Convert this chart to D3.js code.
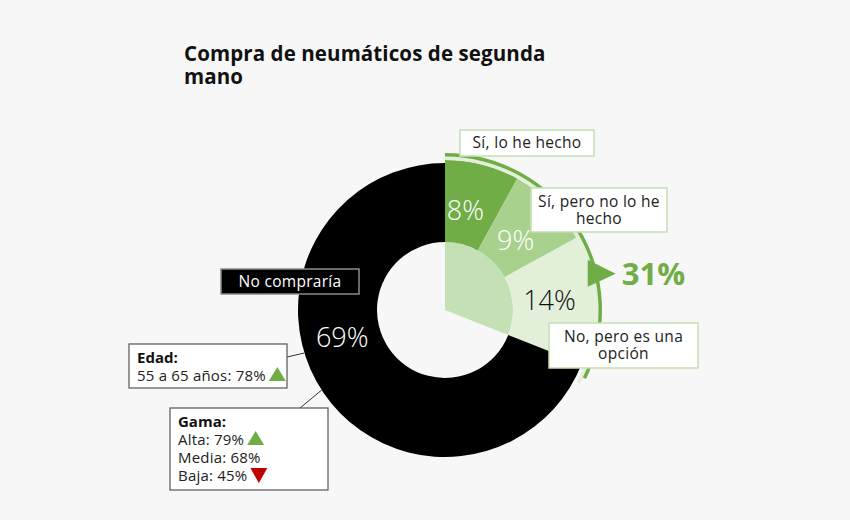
<!DOCTYPE html>
<html>
<head>
<meta charset="utf-8">
<script src="https://cdn.jsdelivr.net/npm/d3@7"></script>
<style>
  body { margin: 0; background: #f7f7f7; }
  svg { display: block; font-family: "Open Sans", "DejaVu Sans", sans-serif; }
</style>
</head>
<body>
<div id="chart"></div>
<script>
// data
const categories = ['Sí, lo he hecho', 'Sí, pero no lo he hecho', 'No, pero es una opción', 'No compraría'];
const values = [8, 9, 14, 69];
const categoryLines = [['Sí, lo he hecho'], ['Sí, pero no lo he', 'hecho'], ['No, pero es una', 'opción'], ['No compraría']];
const edadLabels = ['55 a 65 años'];
const edadValues = [78];
const edadTrend = ['up'];
const gamaLabels = ['Alta', 'Media', 'Baja'];
const gamaValues = [79, 68, 45];
const gamaTrend = ['up', null, 'down'];

const width = 850, height = 520;
const cx = 445, cy = 310;
const r0 = 68, rBlack = 147, rGreen = 150;
const colors = ['#70ad47', '#a9d18e', '#e2f0d9', '#000000'];
const deg = Math.PI / 180;

const svg = d3.select('#chart').append('svg')
  .attr('width', width)
  .attr('height', height);

svg.append('rect').attr('width', width).attr('height', height).attr('fill', '#f7f7f7');

// title, two lines
['Compra de neumáticos de segunda', 'mano'].forEach((l, k) => {
  svg.append('text')
    .attr('x', 184).attr('y', 61 + k * 23)
    .attr('font-size', 20.5).attr('font-weight', 700).attr('fill', '#111')
    .attr('letter-spacing', 0.1)
    .text(l);
});

const rows = categories.map((c, i) => ({ cat: c, val: values[i], i }));
const pie = d3.pie().sort(null).value(d => d.val);
const arcs = pie(rows);
const yesEnd = arcs[2].endAngle;
const yesTotal = d3.sum(values.slice(0, 3));

const g = svg.append('g').attr('transform', `translate(${cx},${cy})`);

// inner pale wedge for the "yes" share
g.append('path')
  .attr('fill', '#c5e0b4')
  .attr('d', d3.arc()({ innerRadius: 0, outerRadius: r0, startAngle: 0, endAngle: yesEnd }));

// ring segments
g.selectAll('path.seg')
  .data(arcs)
  .join('path')
    .attr('class', 'seg')
    .attr('fill', (d, i) => colors[i])
    .attr('d', d => d3.arc()({
      innerRadius: r0,
      outerRadius: d.data.i < 3 ? rGreen : rBlack,
      startAngle: d.startAngle,
      endAngle: d.endAngle
    }));

// outer rim bands
g.append('path')
  .attr('fill', '#e2f0d9')
  .attr('d', d3.arc()({ innerRadius: rGreen, outerRadius: 154, startAngle: 0, endAngle: yesEnd + 7 * deg }));
g.append('path')
  .attr('fill', '#70ad47')
  .attr('d', d3.arc()({ innerRadius: 153.5, outerRadius: 157, startAngle: 0, endAngle: yesEnd + 4.5 * deg }));

// pointer triangle + total
const pa = 76.5 * deg;
const px = 155 * Math.sin(pa), py = -155 * Math.cos(pa);
g.append('path')
  .attr('fill', '#70ad47')
  .attr('d', `M${px - 8},${py - 14}L${px + 20},${py}L${px - 8},${py + 13}Z`);
g.append('text')
  .attr('x', px + 26).attr('y', py + 11)
  .attr('font-size', 31).attr('font-weight', 700)
  .attr('fill', '#70ad47')
  .text(yesTotal + '%');

// percent labels
const labelShift = [-3, 0, -2, 20];
const labelR = [103, 100, 105, 106];
g.selectAll('text.pct')
  .data(arcs)
  .join('text')
    .attr('class', 'pct')
    .attr('transform', (d, i) => {
      const a = (d.startAngle + d.endAngle) / 2 + labelShift[i] * deg;
      return `translate(${labelR[i] * Math.sin(a)},${-labelR[i] * Math.cos(a)})`;
    })
    .attr('text-anchor', 'middle')
    .attr('dominant-baseline', 'central')
    .attr('font-size', 27)
    .attr('font-weight', 300)
    .attr('fill', (d, i) => i === 2 ? '#111' : '#fff')
    .text(d => d.data.val + '%');

// category callouts
const boxes = [
  { x: 460, y: 130, w: 134, h: 26 },
  { x: 531, y: 188, w: 136, h: 44 },
  { x: 549, y: 323, w: 149, h: 45 },
  { x: 221, y: 269, w: 138, h: 25 }
];
boxes.forEach((b, i) => {
  const dark = i === 3;
  svg.append('rect')
    .attr('x', b.x).attr('y', b.y).attr('width', b.w).attr('height', b.h)
    .attr('fill', dark ? '#000' : '#fff')
    .attr('stroke', dark ? '#8c8c8c' : '#c5e0b4')
    .attr('stroke-width', 1.5);
  const lines = categoryLines[i];
  const y0 = b.y + b.h / 2 - (lines.length - 1) * 8.5 + 5;
  lines.forEach((l, k) => {
    svg.append('text')
      .attr('x', b.x + b.w / 2).attr('y', y0 + k * 17)
      .attr('text-anchor', 'middle')
      .attr('font-size', 15.5)
      .attr('letter-spacing', 0.3)
      .attr('fill', dark ? '#fff' : '#222')
      .text(l);
  });
});

// trend triangles
function trend(x, y, dir) {
  if (!dir) return;
  const up = dir === 'up';
  svg.append('path')
    .attr('fill', up ? '#70ad47' : '#c00000')
    .attr('d', up
      ? `M${x},${y}L${x + 8.5},${y - 14}L${x + 17},${y}Z`
      : `M${x},${y - 13}L${x + 17},${y - 13}L${x + 8.5},${y + 2}Z`);
}

function infoBox(b, heading, labels, vals, trends, anchorAngle) {
  const a = anchorAngle * deg;
  svg.append('line')
    .attr('x1', b.lx).attr('y1', b.ly)
    .attr('x2', cx + rBlack * Math.sin(a)).attr('y2', cy - rBlack * Math.cos(a))
    .attr('stroke', '#333').attr('stroke-width', 1);
  svg.append('rect')
    .attr('x', b.x).attr('y', b.y).attr('width', b.w).attr('height', b.h)
    .attr('fill', '#fff').attr('stroke', '#555').attr('stroke-width', 1.2);
  svg.append('text')
    .attr('x', b.x + 8).attr('y', b.y + 19)
    .attr('font-size', 15).attr('font-weight', 700).attr('fill', '#111')
    .text(heading);
  labels.forEach((l, k) => {
    const y = b.y + 37 + k * 18;
    const t = svg.append('text')
      .attr('x', b.x + 8).attr('y', y)
      .attr('font-size', 15).attr('letter-spacing', 0.2).attr('fill', '#222')
      .text(`${l}: ${vals[k]}%`);
    trend(b.x + 8 + t.node().getComputedTextLength() + 3, y, trends[k]);
  });
}

infoBox({ x: 129, y: 344, w: 158, h: 44, lx: 287, ly: 357 }, 'Edad:', edadLabels, edadValues, edadTrend, 253);
infoBox({ x: 170, y: 408, w: 158, h: 82, lx: 300, ly: 408 }, 'Gama:', gamaLabels, gamaValues, gamaTrend, 237);
</script>
</body>
</html>
